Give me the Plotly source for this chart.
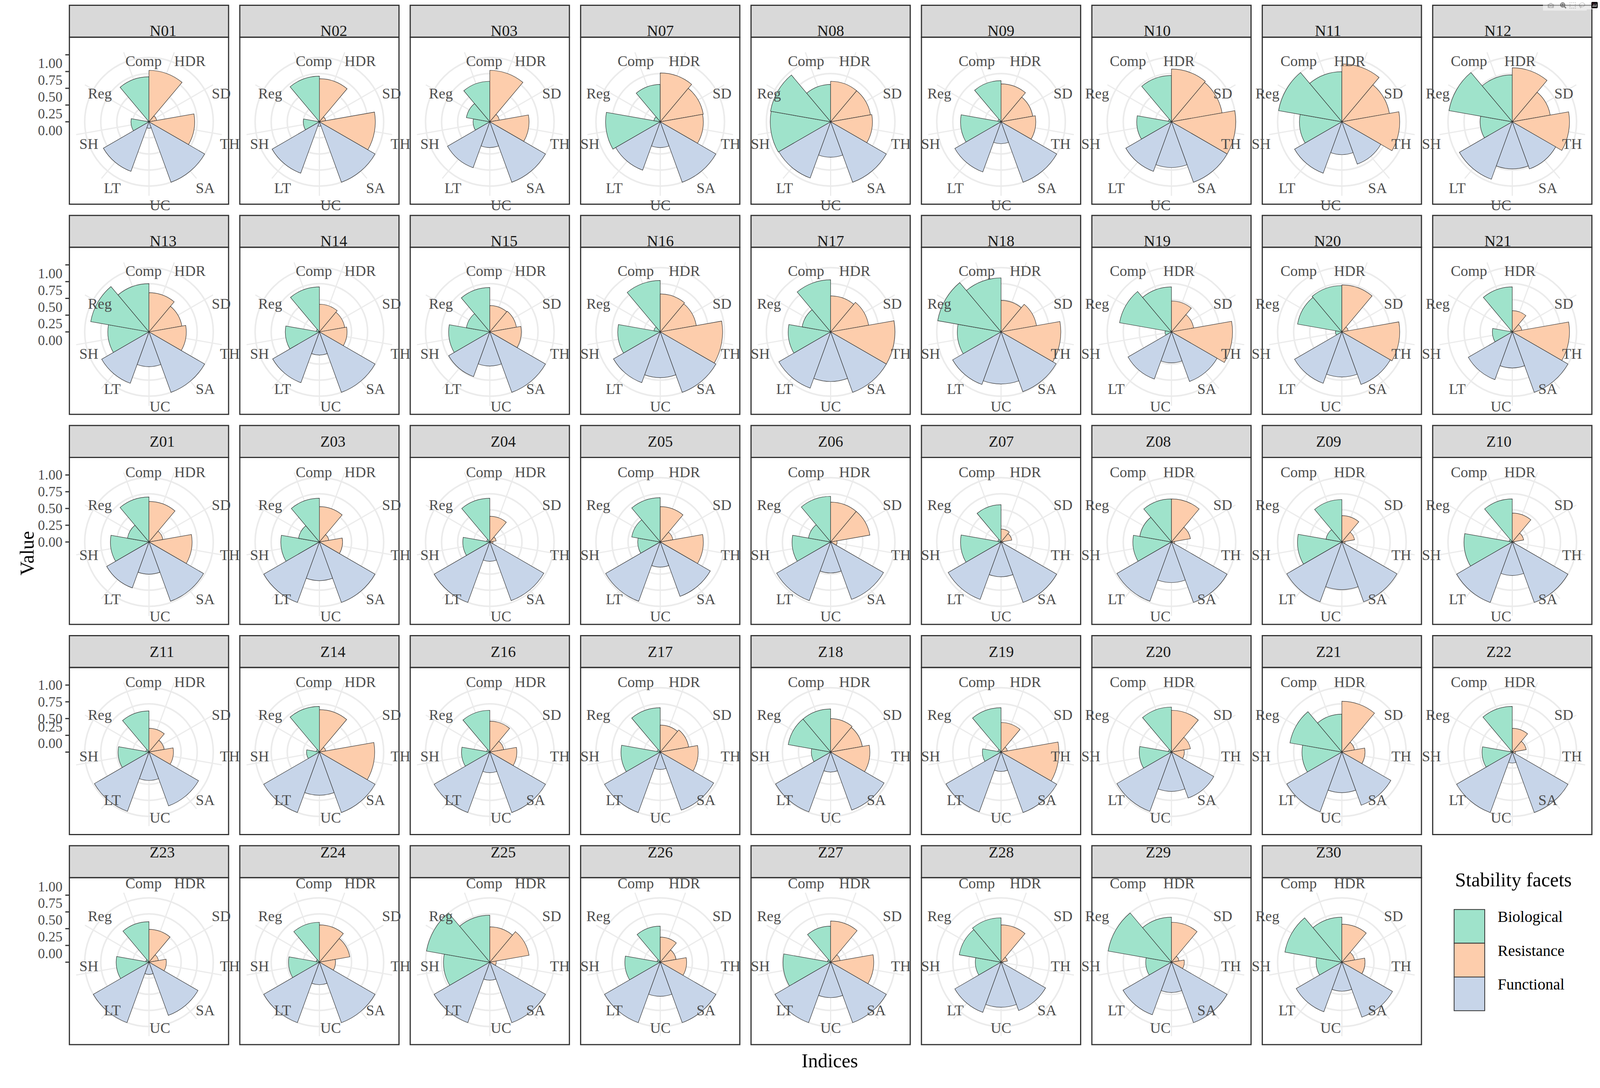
import math
import plotly.graph_objects as go

sites = ["N01","N02","N03","N07","N08","N09","N10","N11","N12",
         "N13","N14","N15","N16","N17","N18","N19","N20","N21",
         "Z01","Z03","Z04","Z05","Z06","Z07","Z08","Z09","Z10",
         "Z11","Z14","Z16","Z17","Z18","Z19","Z20","Z21","Z22",
         "Z23","Z24","Z25","Z26","Z27","Z28","Z29","Z30"]
indices = ["Comp","HDR","SD","TH","SA","UC","LT","SH","Reg"]
facet_of = {"Comp":"Biological","HDR":"Resistance","SD":"Resistance","TH":"Resistance",
            "SA":"Functional","UC":"Functional","LT":"Functional","SH":"Biological","Reg":"Biological"}
Comp = [.70,.71,.63,.58,.58,.64,.72,.78,.73, .75,.70,.69,.80,.81,.84,.70,.72,.70,
        .70,.68,.68,.69,.71,.58,.67,.66,.67, .64,.71,.65,.69,.67,.69,.70,.59,.71,
        .63,.62,.73,.56,.56,.69,.70,.70]
HDR = [.80,.67,.80,.76,.63,.59,.82,.90,.84, .61,.43,.41,.59,.56,.49,.48,.73,.33,
       .63,.55,.40,.55,.62,.20,.67,.41,.45, .37,.66,.48,.42,.52,.46,.65,.79,.37,
       .51,.58,.55,.39,.64,.58,.62,.59]
SD = [.12,.10,.15,.68,.63,.50,.80,.75,.60, .52,.40,.42,.57,.60,.56,.35,.10,.15,
      .22,.15,.10,.20,.62,.17,.30,.20,.18, .24,.10,.22,.45,.50,.10,.30,.20,.22,
      .15,.48,.62,.25,.15,.10,.12,.20]
TH = [.71,.87,.61,.67,.65,.54,1.0,.90,.89, .58,.43,.49,.97,1.0,.93,.95,.90,.89,
      .67,.36,.05,.67,.10,.03,.05,.05,.03, .38,.86,.42,.59,.61,.90,.20,.36,.05,
      .27,.25,.10,.41,.67,.03,.20,.36]
SA = [1.0,1.0,1.0,1.0,1.0,1.0,1.0,.70,.78, 1.0,1.0,1.0,1.0,1.0,.99,.82,.87,1.0,
      .98,1.0,.97,.90,.95,1.0,1.0,.99,1.0, .89,1.0,1.0,.96,.96,1.0,.76,.88,1.0,
      .88,1.0,1.0,1.0,1.0,.80,1.0,.91]
UC = [.10,.07,.40,.40,.55,.34,.71,.51,.73, .54,.36,.53,.71,.77,.81,.48,.70,.56,
      .50,.60,.30,.39,.48,.54,.63,.74,.52, .44,.67,.32,.27,.31,.30,.61,.63,.17,
      .19,.35,.28,.53,.55,.70,.47,.45]
LT = [.82,.85,.76,.80,.93,.83,.82,.85,.95, .85,.84,.74,.84,.93,.87,.78,.85,.79,
      .76,1.0,1.0,.98,.97,.95,.98,.99,1.0, .98,1.0,1.0,1.0,.99,.99,.98,.99,1.0,
      1.0,1.0,1.0,1.0,1.0,.83,.87,.82]
SH = [.28,.25,.26,.85,.94,.63,.54,.66,.50, .64,.53,.64,.66,.66,.68,.10,.10,.31,
      .60,.60,.42,.35,.60,.63,.60,.69,.75, .48,.20,.44,.61,.30,.29,.50,.62,.47,
      .51,.48,.72,.55,.74,.40,.40,.40]
Reg = [.02,.02,.37,.10,.95,.05,.05,1.0,1.0, .92,.05,.37,.10,.45,1.0,.82,.70,.03,
       .34,.33,.05,.45,.35,.05,.50,.25,.05, .05,.05,.05,.05,.67,.05,.05,.82,.03,
       .05,.05,1.0,.05,.05,.66,1.0,.90]
values = {"Comp":Comp,"HDR":HDR,"SD":SD,"TH":TH,"SA":SA,"UC":UC,"LT":LT,"SH":SH,"Reg":Reg}
facets = ["Biological","Resistance","Functional"]
colors = {"Biological":"#9FE3CB","Resistance":"#FDCDAC","Functional":"#C7D5E9"}
radial_ticks = [0.0,0.25,0.5,0.75,1.0]
radial_ticktext = ["0.00","0.25","0.50","0.75","1.00"]

W, H = 4268, 2784
s = 2.722
RMAX = 1.15
unit = 63*s
rpx = RMAX*unit
rlab = 70*s
theta = [(-20 + 40*i) % 360 for i in range(9)]
FONT = "Liberation Serif"

fig = go.Figure()
shapes, annots = [], []
for k, site in enumerate(sites):
    row, col = divmod(k, 9)
    x0 = (68 + 167*col)*s; pw = 156*s
    st = (5 + 197.5*row)*s; sh = 30*s
    bt = st + sh; bh = 157*s
    cx = x0 + pw/2; cy = bt + bh/2 + 1*s
    pname = "polar" if k == 0 else f"polar{k+1}"
    for f in facets:
        idx = [i for i, n in enumerate(indices) if facet_of[n] == f]
        fig.add_trace(go.Barpolar(
            r=[values[indices[i]][k] for i in idx], theta=[theta[i] for i in idx],
            width=[40]*len(idx), marker=dict(color=colors[f], line=dict(color="#333333", width=1.2)),
            subplot=pname, showlegend=False, name=f))
    fig.layout[pname] = dict(
        domain=dict(x=[(cx-rpx)/W, (cx+rpx)/W], y=[1-(cy+rpx)/H, 1-(cy-rpx)/H]),
        bgcolor="white",
        radialaxis=dict(range=[0, RMAX], tickvals=radial_ticks[1:], showticklabels=False,
                        gridcolor="#EBEBEB", gridwidth=4, showline=False, ticks=""),
        angularaxis=dict(rotation=90, direction="clockwise", tickmode="array",
                         tickvals=theta, ticktext=indices, showticklabels=False,
                         gridcolor="#EBEBEB", gridwidth=2.5, showline=False, ticks=""))
    for name, th in zip(indices, theta):
        a = math.radians(th)
        annots.append(dict(text=name, x=(cx + rlab*math.sin(a))/W, y=1-(cy - rlab*math.cos(a))/H,
                           xref="paper", yref="paper", showarrow=False,
                           font=dict(family=FONT, size=38, color="#4D4D4D")))
    shapes.append(dict(type="rect", xref="paper", yref="paper", x0=x0/W, x1=(x0+pw)/W,
                       y0=1-st/H, y1=1-bt/H, fillcolor="#D9D9D9", line=dict(color="#333333", width=3), layer="below"))
    shapes.append(dict(type="rect", xref="paper", yref="paper", x0=x0/W, x1=(x0+pw)/W,
                       y0=1-bt/H, y1=1-(bt+bh)/H, line=dict(color="#333333", width=3), layer="above"))
    annots.append(dict(text=site, x=cx/W, y=1-(st+sh/2)/H, xref="paper", yref="paper", showarrow=False,
                       font=dict(family=FONT, size=40, color="#1A1A1A")))
    if col == 0:
        for v, t in zip(radial_ticks, radial_ticktext):
            annots.append(dict(text=t, x=(x0-6*s)/W, y=1-(cy - v*unit)/H, xref="paper", yref="paper",
                               xanchor="right", showarrow=False, font=dict(family=FONT, size=36, color="#4D4D4D")))
            shapes.append(dict(type="line", xref="paper", yref="paper", x0=(x0-4*s)/W, x1=x0/W,
                               y0=1-(cy - v*unit)/H, y1=1-(cy - v*unit)/H, line=dict(color="#333333", width=3)))

lx = 1425*s; ly = 855*s; lh = 31.7*s
annots.append(dict(text="Stability facets", x=lx/W, y=1-(ly-17*s)/H, xref="paper", yref="paper", xanchor="left",
                   showarrow=False, font=dict(family=FONT, size=50, color="black")))
for i, f in enumerate(facets):
    shapes.append(dict(type="rect", xref="paper", yref="paper", x0=lx/W, x1=(lx+30*s)/W,
                       y0=1-(ly+i*lh)/H, y1=1-(ly+(i+1)*lh)/H, fillcolor=colors[f], line=dict(color="#333333", width=2)))
    annots.append(dict(text=f, x=(lx+42*s)/W, y=1-(ly+(i+0.5)*lh)/H, xref="paper", yref="paper", xanchor="left",
                       showarrow=False, font=dict(family=FONT, size=40, color="black")))
annots.append(dict(text="Value", x=15*s/W, y=1-520*s/H, xref="paper", yref="paper", textangle=-90,
                   showarrow=False, font=dict(family=FONT, size=50, color="black")))
annots.append(dict(text="Indices", x=813*s/W, y=1-1008*s/H, xref="paper", yref="paper",
                   showarrow=False, font=dict(family=FONT, size=50, color="black")))

fig.update_layout(autosize=True, paper_bgcolor="white", plot_bgcolor="white",
                  margin=dict(l=0, r=0, t=0, b=0), shapes=shapes, annotations=annots, showlegend=False)

body = fig.to_html(full_html=False, include_plotlyjs=True, default_width="100vw", default_height="100vh",
                   config={"responsive": True})
html = ("<!DOCTYPE html><html><head><meta charset='utf-8'>"
        "<style>html,body{margin:0;padding:0;overflow:hidden;background:white;}</style></head><body>"
        + body + "</body></html>")
with open("out.html", "w", encoding="utf-8") as fh:
    fh.write(html)
# fig.write_html("out.html") equivalent with zero page margin
